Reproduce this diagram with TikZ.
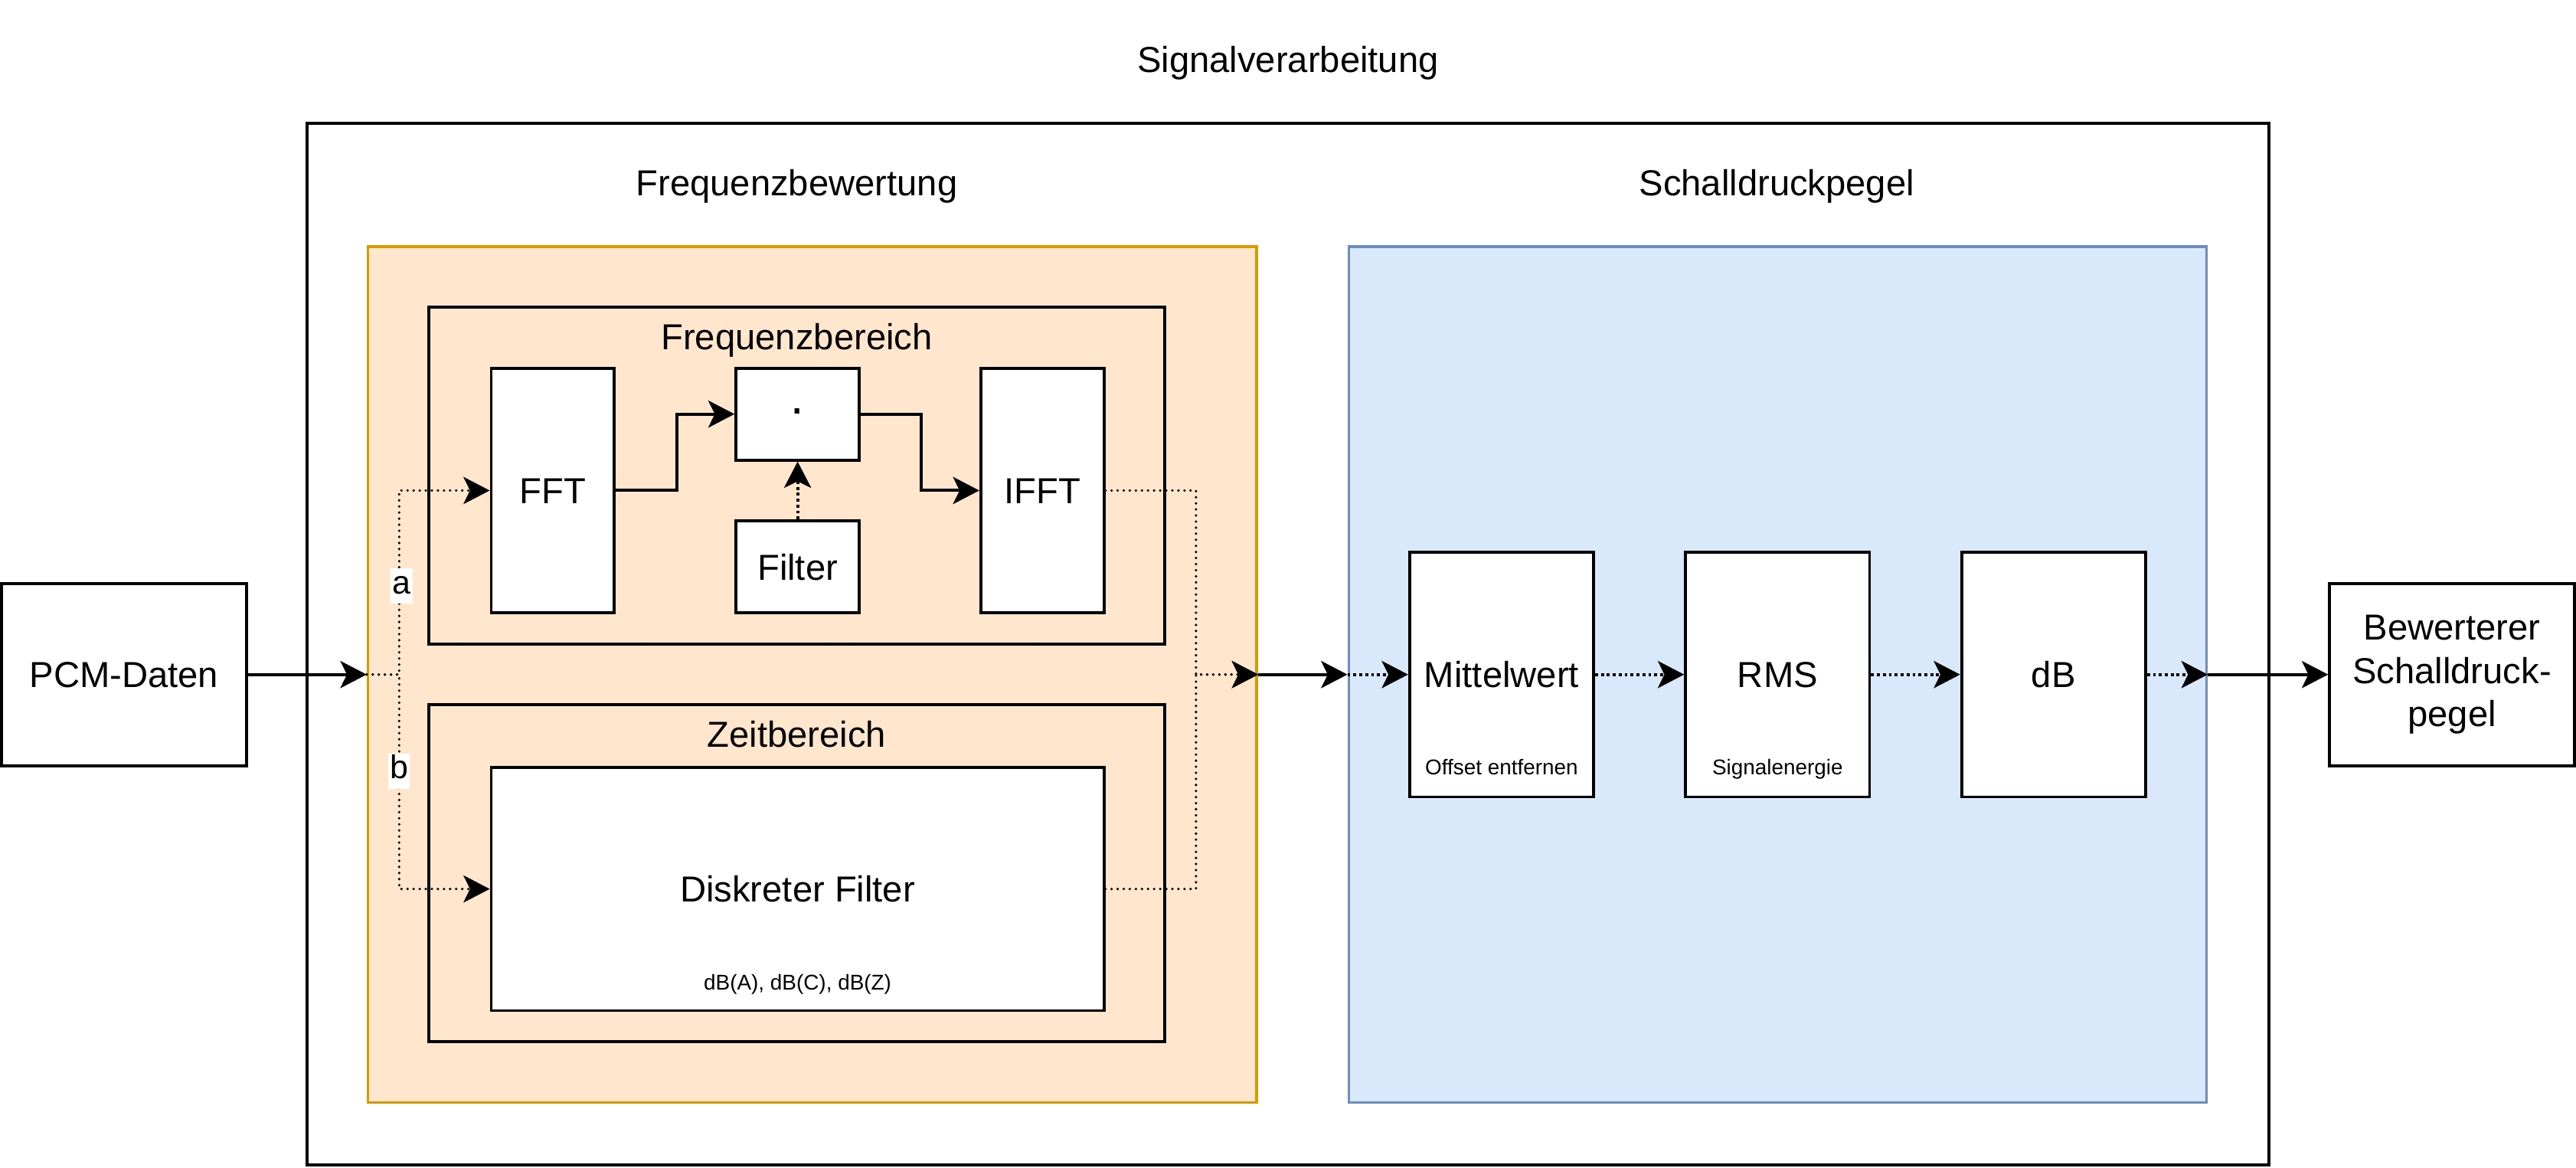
\documentclass[tikz,border=0pt]{standalone}
\usepackage{fontspec}
\setmainfont{Liberation Sans}
\usetikzlibrary{arrows.meta}
\definecolor{orfill}{HTML}{FFE6CC}
\definecolor{orline}{HTML}{D79B00}
\definecolor{blfill}{HTML}{DAE8FC}
\definecolor{blline}{HTML}{6C8EBF}
\begin{document}
\begin{tikzpicture}[x=1pt,y=-1pt,
  >={Stealth[length=16pt,width=16.5pt,inset=4pt]},
  bigfont/.style={font=\fontsize{22}{26.4}\selectfont},
  smallfont/.style={font=\fontsize{13}{15.6}\selectfont},
  capc/.style={text height=15.75pt,text depth=0pt},
  blk/.style={draw,line width=1.8pt,fill=white,inner sep=0pt,bigfont,capc},
  blkml/.style={draw,line width=1.8pt,fill=white,inner sep=0pt,bigfont,align=center},
  cont/.style={draw,line width=1.65pt,inner sep=0pt},
  ttl/.style={inner sep=0pt,bigfont,capc},
  small/.style={inner sep=0pt,smallfont,text height=9.3pt,text depth=0pt},
  solidc/.style={line width=1.8pt,->},
  rdot/.style={line width=1.65pt,dash pattern=on 0pt off 3.7pt,line cap=round,->},
  sdot/.style={line width=1.8pt,dash pattern=on 1.8pt off 1.8pt,->},
  lbl/.style={fill=white,inner sep=1pt,font=\fontsize{20}{24}\selectfont,text height=14.5pt,text depth=5pt}
]
\useasboundingbox (0,0) rectangle (1568,710.37);

% containers
\node[ttl] (tsig) at (784,36) {Signalverarbeitung};
\node[cont, minimum width=1194pt, minimum height=634pt] (outer) at (784,392) {};
\node[ttl] (tfb) at (485,111) {Frequenzbewertung};
\node[cont, draw=orline, fill=orfill, minimum width=541pt, minimum height=521pt] (orange) at (494.5,410.5) {};
\node[ttl] (tsp) at (1081.5,111) {Schalldruckpegel};
\node[cont, draw=blline, fill=blfill, minimum width=522pt, minimum height=521pt] (blue) at (1082,410.5) {};
\node[cont, line width=1.8pt, minimum width=448pt, minimum height=205pt] (freqb) at (485,289.5) {};
\node[ttl] (tfr) at (485,204.7) {Frequenzbereich};
\node[cont, line width=1.8pt, minimum width=448pt, minimum height=205pt] (zeitb) at (485,531.5) {};
\node[ttl] (tzb) at (485,446.7) {Zeitbereich};

% blocks
\node[blk, minimum width=75pt, minimum height=149pt] (fft) at (336.5,298.5) {FFT};
\node[blk, minimum width=75pt, minimum height=56pt, font=\fontsize{30}{36}\selectfont, text height=13pt] (dot) at (485.5,252) {·};
\node[blk, minimum width=75pt, minimum height=56pt] (filter) at (485.5,345) {Filter};
\node[blk, minimum width=75pt, minimum height=149pt] (ifft) at (634.5,298.5) {IFFT};
\node[blk, minimum width=373pt, minimum height=148pt] (diskret) at (485.5,541) {Diskreter Filter};
\node[small] (dbs) at (485.5,598) {dB(A), dB(C), dB(Z)};
\node[blk, minimum width=149pt, minimum height=111pt] (pcm) at (75.5,410.5) {PCM-Daten};
\node[blk, minimum width=112pt, minimum height=149pt] (mittel) at (914,410.5) {Mittelwert};
\node[small] (ofs) at (914,467) {Offset entfernen};
\node[blk, minimum width=112pt, minimum height=149pt] (rms) at (1082,410.5) {RMS};
\node[small] (sig) at (1082,467) {Signalenergie};
\node[blk, minimum width=112pt, minimum height=149pt] (db) at (1250,410.5) {dB};
\node[blkml, minimum width=149pt, minimum height=111pt] (bew) at (1492.5,410.5) {Bewerterer\\Schalldruck-\\pegel};

% connectors
\coordinate (jl) at (243,410.5);
\coordinate (jr) at (728,410.5);
\draw[solidc] (pcm.east) -- (orange.west);
\draw[rdot] (orange.west) -- (jl) |- (fft.west) node[lbl,pos=0.24,xshift=1.5pt] (la) {a};
\draw[rdot] (orange.west) -- (jl) |- (diskret.west) node[lbl,pos=0.225] (lb) {b};
\draw[solidc] (fft.east) -- ++(37,0) |- (dot.west);
\draw[solidc] (dot.east) -- ++(37,0) |- (ifft.west);
\draw[sdot] (filter.north) -- (dot.south);
\draw[rdot] (ifft.east) -| (jr) -- (orange.east);
\draw[rdot] (diskret.east) -| (jr) -- (orange.east);
\draw[solidc] (orange.east) -- (blue.west);
\draw[sdot] (blue.west) -- (mittel.west);
\draw[sdot] (mittel.east) -- (rms.west);
\draw[sdot] (rms.east) -- (db.west);
\draw[sdot] (db.east) -- (blue.east);
\draw[solidc] (blue.east) -- (bew.west);
\end{tikzpicture}
\end{document}
